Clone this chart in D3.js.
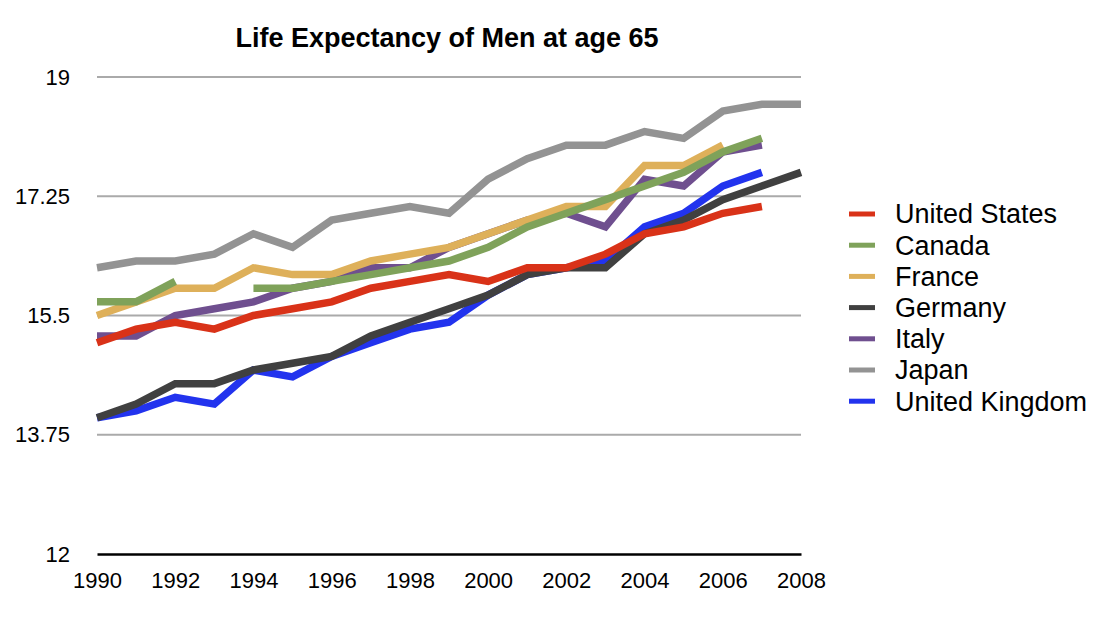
<!DOCTYPE html>
<html>
<head>
<meta charset="utf-8">
<script src="https://cdn.jsdelivr.net/npm/d3@7"></script>
<style>
  body { margin: 0; background: #fff; }
  text { font-family: "Liberation Sans", Arial, Helvetica, sans-serif; fill: #000; }
</style>
</head>
<body>
<script>
const years = d3.range(1990, 2009);
const yTicks = [12, 13.75, 15.5, 17.25, 19];
const xTicks = [1990, 1992, 1994, 1996, 1998, 2000, 2002, 2004, 2006, 2008];

const countries = ["United States", "Canada", "France", "Germany", "Italy", "Japan", "United Kingdom"];
const colors = ["#d93218", "#7fa25a", "#deb05a", "#404040", "#6f4f8f", "#939393", "#2233ee"];

// values from 1990, null = no data
const usValues = [15.1, 15.3, 15.4, 15.3, 15.5, 15.6, 15.7, 15.9, 16.0, 16.1, 16.0, 16.2, 16.2, 16.4, 16.7, 16.8, 17.0, 17.1];
const canadaValues = [15.7, 15.7, 16.0, null, 15.9, 15.9, 16.0, 16.1, 16.2, 16.3, 16.5, 16.8, 17.0, 17.2, 17.4, 17.6, 17.9, 18.1];
const franceValues = [15.5, 15.7, 15.9, 15.9, 16.2, 16.1, 16.1, 16.3, 16.4, 16.5, 16.7, 16.9, 17.1, 17.1, 17.7, 17.7, 18.0];
const germanyValues = [14.0, 14.2, 14.5, 14.5, 14.7, 14.8, 14.9, 15.2, 15.4, 15.6, 15.8, 16.1, 16.2, 16.2, 16.7, 16.9, 17.2, 17.4, 17.6];
const italyValues = [15.2, 15.2, 15.5, 15.6, 15.7, 15.9, 16.0, 16.2, 16.2, 16.5, 16.7, 16.9, 17.0, 16.8, 17.5, 17.4, 17.9, 18.0];
const japanValues = [16.2, 16.3, 16.3, 16.4, 16.7, 16.5, 16.9, 17.0, 17.1, 17.0, 17.5, 17.8, 18.0, 18.0, 18.2, 18.1, 18.5, 18.6, 18.6];
const ukValues = [14.0, 14.1, 14.3, 14.2, 14.7, 14.6, 14.9, 15.1, 15.3, 15.4, 15.8, 16.1, 16.2, 16.3, 16.8, 17.0, 17.4, 17.6];

const allValues = [usValues, canadaValues, franceValues, germanyValues, italyValues, japanValues, ukValues];

const margin = {top: 77, right: 299, bottom: 81, left: 97},
      width = 1100 - margin.left - margin.right,
      height = 635 - margin.top - margin.bottom;

const svg = d3.select("body")
  .append("svg")
  .attr("width", 1100)
  .attr("height", 635);

const xScale = d3.scaleLinear().domain([1990, 2008]).range([margin.left, margin.left + width]);
const yScale = d3.scaleLinear().domain([12, 19]).range([margin.top + height, margin.top]);

const series = countries.map((c, i) => ({
  name: c,
  color: colors[i],
  points: allValues[i].map((v, j) => ({year: years[j], value: v}))
}));

// title
svg.append("text")
  .attr("x", 447)
  .attr("y", 47)
  .attr("text-anchor", "middle")
  .style("font-size", "27px")
  .style("font-weight", "bold")
  .text("Life Expectancy of Men at age 65");

// grid lines
svg.append("g")
  .selectAll("line")
  .data(yTicks.slice(1))
  .enter()
  .append("line")
  .attr("x1", margin.left)
  .attr("x2", margin.left + width)
  .attr("y1", (d) => yScale(d))
  .attr("y2", (d) => yScale(d))
  .attr("stroke", "#aaaaaa")
  .attr("stroke-width", 2);

// y labels
const yAxis = d3.axisLeft(yScale)
  .tickValues(yTicks)
  .tickFormat((d) => String(d))
  .tickSize(0)
  .tickPadding(27);

svg.append("g")
  .attr("transform", "translate(" + margin.left + ",0)")
  .call(yAxis)
  .call((g) => g.select(".domain").remove())
  .selectAll("text")
  .style("font-size", "22px")
  .style("font-family", '"Liberation Sans", Arial, sans-serif');

// x axis
const xAxis = d3.axisBottom(xScale)
  .tickValues(xTicks)
  .tickFormat(d3.format("d"))
  .tickSize(0)
  .tickPadding(18);

const xg = svg.append("g")
  .attr("transform", "translate(0," + (margin.top + height) + ")")
  .call(xAxis);

xg.select(".domain")
  .attr("stroke", "#000")
  .attr("stroke-width", 2.5);

xg.selectAll("text")
  .style("font-size", "22px")
  .style("font-family", '"Liberation Sans", Arial, sans-serif');

// lines
const line = d3.line()
  .defined((d) => d.value != null)
  .x((d) => xScale(d.year))
  .y((d) => yScale(d.value));

svg.append("g")
  .selectAll("path")
  .data(series.slice().reverse())
  .enter()
  .append("path")
  .attr("d", (d) => line(d.points))
  .attr("fill", "none")
  .attr("stroke", (d) => d.color)
  .attr("stroke-width", 7.5)
  .attr("stroke-linejoin", "miter");

// legend
const legend = svg.append("g")
  .selectAll("g")
  .data(series)
  .enter()
  .append("g")
  .attr("transform", (d, i) => "translate(849," + (214 + i * 31.2) + ")");

legend.append("line")
  .attr("x1", 0)
  .attr("x2", 26)
  .attr("stroke", (d) => d.color)
  .attr("stroke-width", 5);

legend.append("text")
  .attr("x", 46)
  .attr("dy", "0.35em")
  .style("font-size", "27px")
  .text((d) => d.name);
</script>
</body>
</html>
